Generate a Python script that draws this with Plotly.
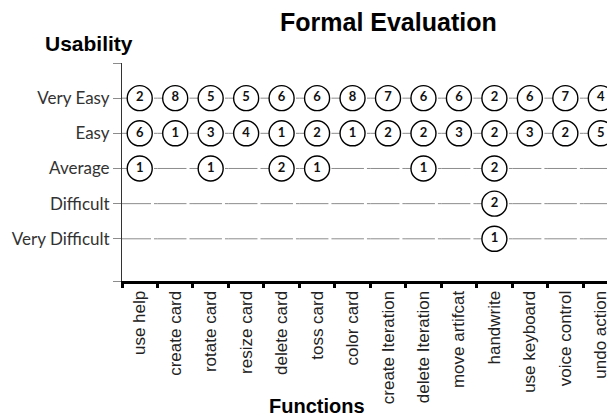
import plotly.graph_objects as go

functions = ["use help", "create card", "rotate card", "resize card", "delete card",
             "toss card", "color card", "create Iteration", "delete Iteration",
             "move artifcat", "handwrite", "use keyboard", "voice control", "undo action"]

levels = ["Very Difficult", "Difficult", "Average", "Easy", "Very Easy"]
level_values = [1, 2, 3, 4, 5]

very_easy = [2, 8, 5, 5, 6, 6, 8, 7, 6, 6, 2, 6, 7, 4]
easy = [6, 1, 3, 4, 1, 2, 1, 2, 2, 3, 2, 3, 2, 5]
average = [1, 0, 1, 0, 2, 1, 0, 0, 1, 0, 2, 0, 0, 0]
difficult = [0, 0, 0, 0, 0, 0, 0, 0, 0, 0, 2, 0, 0, 0]
very_difficult = [0, 0, 0, 0, 0, 0, 0, 0, 0, 0, 1, 0, 0, 0]

rows = [(5, very_easy), (4, easy), (3, average), (2, difficult), (1, very_difficult)]

fig = go.Figure()

for lv, counts in rows:
    xs = [f for f, c in zip(functions, counts) if c > 0]
    ts = [f"<b>{c}</b>" for c in counts if c > 0]
    fig.add_trace(go.Scatter(
        x=xs, y=[lv] * len(xs), mode="markers+text", text=ts,
        textposition="middle center",
        textfont=dict(family="Lato, Noto Sans", size=13, color="#111111"),
        marker=dict(symbol="circle", size=25, color="white",
                    line=dict(color="black", width=1.4)),
        showlegend=False, cliponaxis=False, hoverinfo="skip"))

for lv in level_values:
    fig.add_shape(type="line", xref="paper", x0=0, x1=1, yref="y", y0=lv, y1=lv,
                  line=dict(color="#8c8c8c", width=1, dash="29px,3px,3.49px,0px"),
                  layer="below")

fig.update_layout(
    width=607, height=412,
    margin=dict(l=114, r=0, t=55, b=139),
    paper_bgcolor="white", plot_bgcolor="white",
    xaxis=dict(
        type="category", categoryorder="array", categoryarray=functions,
        range=[-0.5, 13.4], tickson="boundaries",
        showline=True, linecolor="black", linewidth=3,
        ticks="outside", ticklen=4, tickwidth=3, tickcolor="black",
        tickangle=-90, showgrid=False, zeroline=False,
        tickfont=dict(family="Liberation Sans, Arial", size=17, color="#222222")),
    yaxis=dict(
        range=[-0.2, 6], tickvals=[-0.2, 1, 2, 3, 4, 5, 6],
        ticktext=[""] + levels + [""],
        showline=True, linecolor="#333333", linewidth=1,
        ticks="outside", ticklen=8, tickwidth=1, tickcolor="#8c8c8c",
        showgrid=False, zeroline=False,
        tickfont=dict(family="Lato, Noto Sans", size=17, color="#333333")),
    annotations=[
        dict(text="<b>Formal Evaluation</b>", xref="paper", yref="paper",
             x=0.54, y=1.19, xanchor="center", yanchor="middle", showarrow=False,
             font=dict(family="Liberation Sans, Arial", size=25, color="black")),
        dict(text="<b>Usability</b>", xref="paper", yref="paper",
             x=-0.066, y=1.09, xanchor="center", yanchor="middle", showarrow=False,
             font=dict(family="Liberation Sans, Arial", size=21, color="black")),
        dict(text="<b>Functions</b>", xref="paper", yref="paper",
             x=0.396, y=-0.573, xanchor="center", yanchor="middle", showarrow=False,
             font=dict(family="Liberation Sans, Arial", size=20, color="black")),
    ],
)

fig.write_html("out.html")
